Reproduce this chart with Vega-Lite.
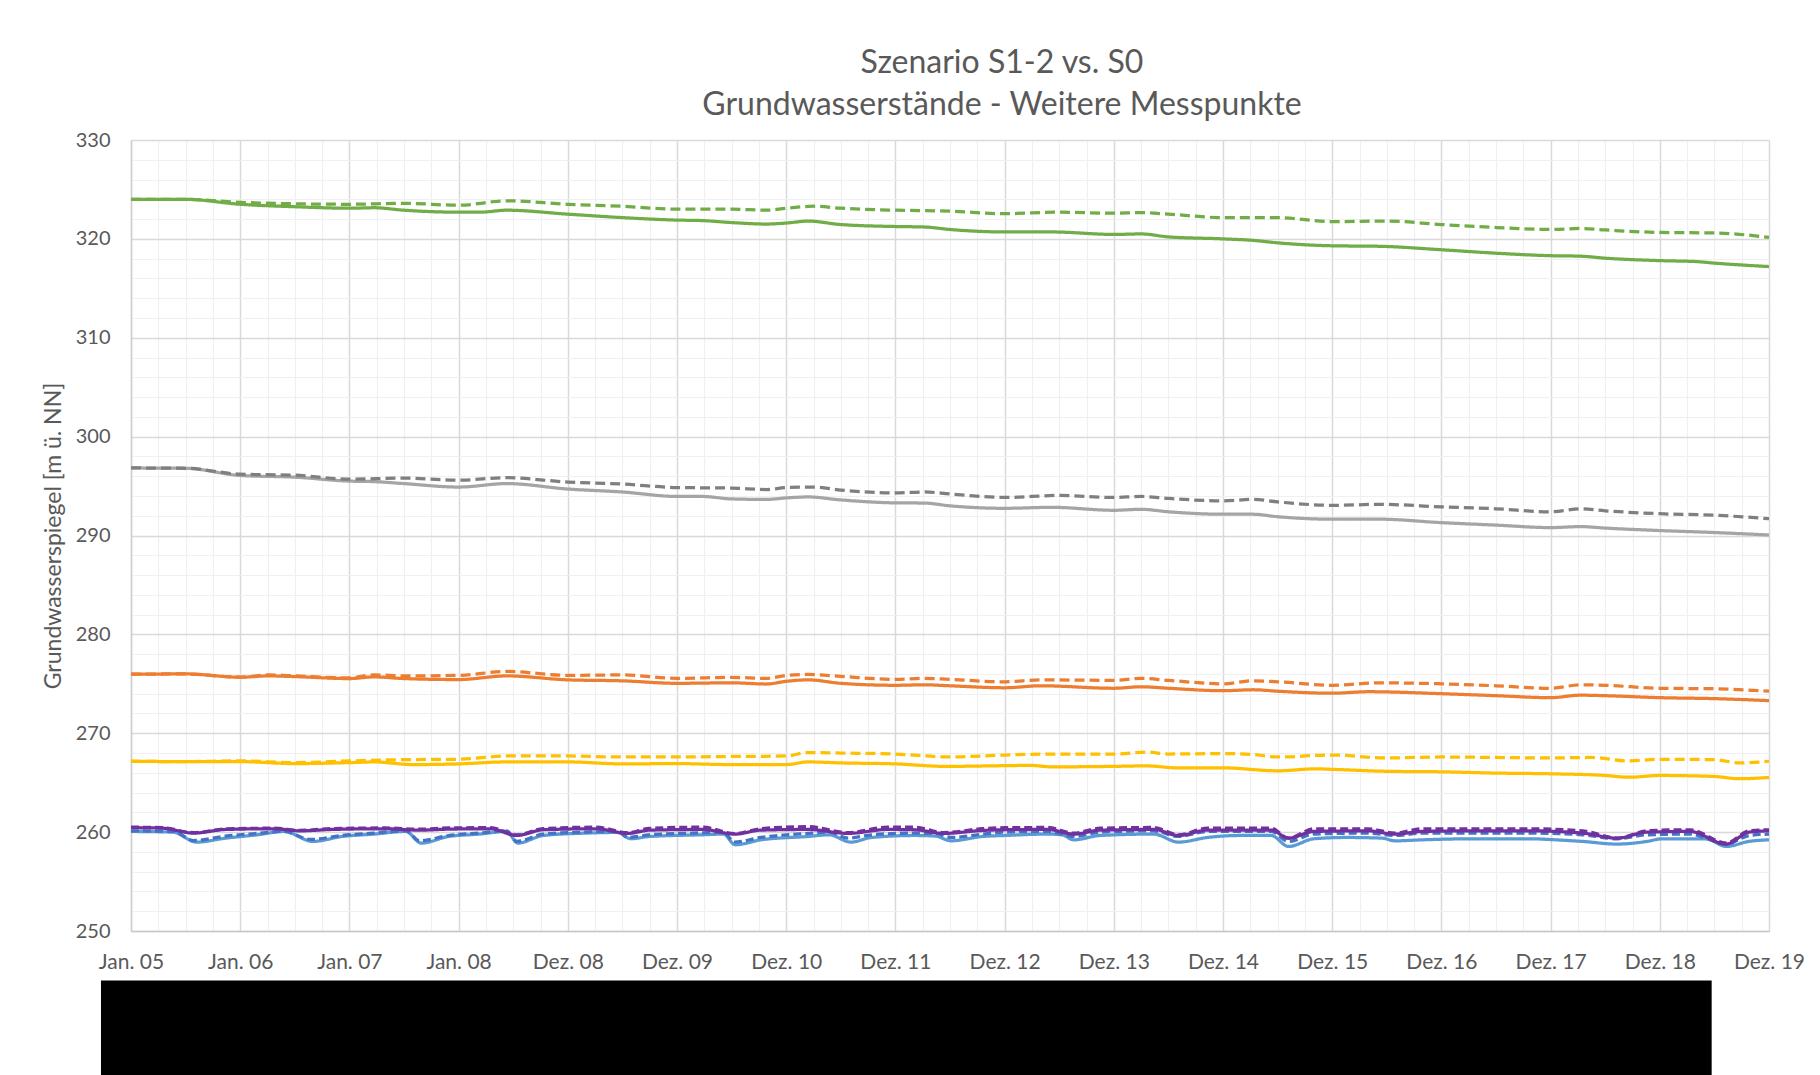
{
"$schema": "https://vega.github.io/schema/vega-lite/v6.json",
"width": 1638, "height": 791,
"autosize": {"type": "none"},
"padding": {"left": 131, "top": 140, "right": 51, "bottom": 144},
"background": "white",
"config": {
  "font": "Lato",
  "view": {"stroke": null},
  "axisX": {
    "grid": true,
    "gridColor": {"condition": {"test": "datum.value % 12 === 0", "value": "#d9d9d9"}, "value": "#f0f0f0"},
    "gridWidth": {"condition": {"test": "datum.value % 12 === 0", "value": 1.5}, "value": 1.2},
    "ticks": false,
    "domainColor": "#c8c8c8", "domainWidth": 1.5,
    "labelFont": "Lato", "labelFontSize": 21, "labelColor": "#595959", "labelPadding": 20,
    "labelFlush": false, "labelOverlap": false, "labelBound": false
  },
  "axisY": {
    "grid": true,
    "gridColor": {"condition": {"test": "datum.value % 10 === 0", "value": "#d9d9d9"}, "value": "#f0f0f0"},
    "gridWidth": {"condition": {"test": "datum.value % 10 === 0", "value": 1.5}, "value": 1.2},
    "ticks": false,
    "domainColor": "#d0d0d0", "domainWidth": 1.5,
    "labelFont": "Lato", "labelFontSize": 20, "labelColor": "#595959", "labelPadding": 21,
    "labelOverlap": false,
    "titleFont": "Lato", "titleFontSize": 23, "titleFontWeight": "normal", "titleColor": "#595959", "titlePadding": 10
  }
},
"title": {
  "text": ["Szenario S1-2 vs. S0", "Grundwasserstände - Weitere Messpunkte"],
  "font": "Lato", "fontSize": 32, "fontWeight": "normal", "color": "#595959",
  "anchor": "middle", "frame": "group", "dx": 52, "lineHeight": 42, "offset": 8
},
"layer": [
  {
    "data": {"name": "gw"},
    "mark": {"type": "line", "interpolate": "monotone"},
    "encoding": {
      "x": {"field": "t", "type": "quantitative", "title": null, "scale": {"domain": [0, 180], "nice": false, "zero": false},
        "axis": {"tickCount": 200, "values": [0,3,6,9,12,15,18,21,24,27,30,33,36,39,42,45,48,51,54,57,60,63,66,69,72,75,78,81,84,87,90,93,96,99,102,105,108,111,114,117,120,123,126,129,132,135,138,141,144,147,150,153,156,159,162,165,168,171,174,177,180],
          "labelExpr": "datum.value % 12 === 0 ? ['Jan. 05','Jan. 06','Jan. 07','Jan. 08','Dez. 08','Dez. 09','Dez. 10','Dez. 11','Dez. 12','Dez. 13','Dez. 14','Dez. 15','Dez. 16','Dez. 17','Dez. 18','Dez. 19'][datum.value / 12] : ''"}},
      "y": {"field": "v", "type": "quantitative", "title": "Grundwasserspiegel [m ü. NN]", "scale": {"domain": [250, 330], "nice": false, "zero": false},
        "axis": {"tickCount": 200, "format": "d", "values": [250,252,254,256,258,260,262,264,266,268,270,272,274,276,278,280,282,284,286,288,290,292,294,296,298,300,302,304,306,308,310,312,314,316,318,320,322,324,326,328,330],
          "labelExpr": "datum.value % 10 === 0 ? format(datum.value, 'd') : ''"}},
      "color": {"field": "s", "type": "nominal", "legend": null,
        "scale": {"domain": ["MP1 S0","MP1 S1-2","MP2 S0","MP2 S1-2","MP3 S0","MP3 S1-2","MP4 S0","MP4 S1-2","MP5 S0","MP5 S1-2","MP6 S0","MP6 S1-2"],
                  "range": ["#70ad47","#70ad47","#a5a5a5","#7f7f7f","#ed7d31","#ed7d31","#ffc000","#ffc000","#5b9bd5","#4472c4","#7030a0","#7030a0"]}},
      "strokeDash": {"field": "s", "type": "nominal", "legend": null,
        "scale": {"domain": ["MP1 S0","MP1 S1-2","MP2 S0","MP2 S1-2","MP3 S0","MP3 S1-2","MP4 S0","MP4 S1-2","MP5 S0","MP5 S1-2","MP6 S0","MP6 S1-2"],
                  "range": [[1,0],[10,5],[1,0],[10,5],[1,0],[10,5],[1,0],[10,5],[1,0],[8,4],[1,0],[8,4]]}},
      "strokeWidth": {"field": "s", "type": "nominal", "legend": null,
        "scale": {"domain": ["MP1 S0","MP1 S1-2","MP2 S0","MP2 S1-2","MP3 S0","MP3 S1-2","MP4 S0","MP4 S1-2","MP5 S0","MP5 S1-2","MP6 S0","MP6 S1-2"],
                  "range": [3.25,3.25,3.25,3.25,3.25,3.25,3.25,3.25,3.25,3.25,3.5,4]}}
    }
  },
  {
    "data": {"values": [{}]},
    "mark": {"type": "rect", "color": "black", "clip": false},
    "encoding": {
      "x": {"datum": -3.3, "type": "quantitative", "title": null},
      "x2": {"datum": 173.7},
      "y": {"datum": 245, "type": "quantitative", "title": "Grundwasserspiegel [m ü. NN]"},
      "y2": {"datum": 235.3}
    }
  }
],
"datasets": {
"gw": [
{"s":"MP1 S0","t":0,"v":324.0},{"s":"MP1 S0","t":6,"v":324.0},{"s":"MP1 S0","t":12,"v":323.5},{"s":"MP1 S0","t":18,"v":323.25},{"s":"MP1 S0","t":24,"v":323.1},{"s":"MP1 S0","t":26.7,"v":323.15},{"s":"MP1 S0","t":30,"v":322.9},{"s":"MP1 S0","t":36,"v":322.7},{"s":"MP1 S0","t":38.4,"v":322.7},{"s":"MP1 S0","t":41.3,"v":322.9},{"s":"MP1 S0","t":48,"v":322.5},{"s":"MP1 S0","t":54,"v":322.15},{"s":"MP1 S0","t":60,"v":321.9},{"s":"MP1 S0","t":62.8,"v":321.85},{"s":"MP1 S0","t":66,"v":321.65},{"s":"MP1 S0","t":69.8,"v":321.5},{"s":"MP1 S0","t":72,"v":321.6},{"s":"MP1 S0","t":74.4,"v":321.8},{"s":"MP1 S0","t":78,"v":321.45},{"s":"MP1 S0","t":84,"v":321.25},{"s":"MP1 S0","t":87.2,"v":321.2},{"s":"MP1 S0","t":90,"v":320.95},{"s":"MP1 S0","t":96,"v":320.7},{"s":"MP1 S0","t":101.2,"v":320.7},{"s":"MP1 S0","t":108,"v":320.45},{"s":"MP1 S0","t":111,"v":320.5},{"s":"MP1 S0","t":114,"v":320.2},{"s":"MP1 S0","t":120,"v":320.0},{"s":"MP1 S0","t":123.3,"v":319.85},{"s":"MP1 S0","t":126,"v":319.6},{"s":"MP1 S0","t":132,"v":319.3},{"s":"MP1 S0","t":137.2,"v":319.25},{"s":"MP1 S0","t":144,"v":318.9},{"s":"MP1 S0","t":150,"v":318.55},{"s":"MP1 S0","t":156,"v":318.3},{"s":"MP1 S0","t":159.3,"v":318.25},{"s":"MP1 S0","t":162,"v":318.05},{"s":"MP1 S0","t":168,"v":317.8},{"s":"MP1 S0","t":172.1,"v":317.7},{"s":"MP1 S0","t":174,"v":317.55},{"s":"MP1 S0","t":180,"v":317.2},
{"s":"MP1 S1-2","t":0,"v":324.0},{"s":"MP1 S1-2","t":6,"v":324.0},{"s":"MP1 S1-2","t":12,"v":323.7},{"s":"MP1 S1-2","t":18,"v":323.55},{"s":"MP1 S1-2","t":24,"v":323.5},{"s":"MP1 S1-2","t":30,"v":323.6},{"s":"MP1 S1-2","t":36,"v":323.4},{"s":"MP1 S1-2","t":41.3,"v":323.85},{"s":"MP1 S1-2","t":48,"v":323.5},{"s":"MP1 S1-2","t":54,"v":323.3},{"s":"MP1 S1-2","t":60,"v":323.0},{"s":"MP1 S1-2","t":66,"v":323.0},{"s":"MP1 S1-2","t":69.8,"v":322.9},{"s":"MP1 S1-2","t":72,"v":323.1},{"s":"MP1 S1-2","t":75,"v":323.3},{"s":"MP1 S1-2","t":78,"v":323.1},{"s":"MP1 S1-2","t":84,"v":322.9},{"s":"MP1 S1-2","t":90,"v":322.8},{"s":"MP1 S1-2","t":96,"v":322.55},{"s":"MP1 S1-2","t":102,"v":322.7},{"s":"MP1 S1-2","t":108,"v":322.6},{"s":"MP1 S1-2","t":111,"v":322.65},{"s":"MP1 S1-2","t":114,"v":322.5},{"s":"MP1 S1-2","t":120,"v":322.15},{"s":"MP1 S1-2","t":126,"v":322.15},{"s":"MP1 S1-2","t":132,"v":321.75},{"s":"MP1 S1-2","t":138,"v":321.8},{"s":"MP1 S1-2","t":144,"v":321.45},{"s":"MP1 S1-2","t":150,"v":321.15},{"s":"MP1 S1-2","t":156,"v":320.95},{"s":"MP1 S1-2","t":159.3,"v":321.05},{"s":"MP1 S1-2","t":162,"v":320.9},{"s":"MP1 S1-2","t":168,"v":320.65},{"s":"MP1 S1-2","t":174,"v":320.6},{"s":"MP1 S1-2","t":180,"v":320.15},
{"s":"MP2 S0","t":0,"v":296.83},{"s":"MP2 S0","t":6,"v":296.8},{"s":"MP2 S0","t":12,"v":296.07},{"s":"MP2 S0","t":18,"v":295.9},{"s":"MP2 S0","t":24,"v":295.5},{"s":"MP2 S0","t":26.7,"v":295.45},{"s":"MP2 S0","t":30,"v":295.25},{"s":"MP2 S0","t":36,"v":294.9},{"s":"MP2 S0","t":41.3,"v":295.25},{"s":"MP2 S0","t":48,"v":294.7},{"s":"MP2 S0","t":54,"v":294.4},{"s":"MP2 S0","t":60,"v":293.95},{"s":"MP2 S0","t":62.8,"v":293.95},{"s":"MP2 S0","t":66,"v":293.7},{"s":"MP2 S0","t":69.8,"v":293.65},{"s":"MP2 S0","t":72,"v":293.8},{"s":"MP2 S0","t":74.4,"v":293.9},{"s":"MP2 S0","t":78,"v":293.6},{"s":"MP2 S0","t":84,"v":293.3},{"s":"MP2 S0","t":87.2,"v":293.28},{"s":"MP2 S0","t":90,"v":293.0},{"s":"MP2 S0","t":96,"v":292.75},{"s":"MP2 S0","t":101.2,"v":292.85},{"s":"MP2 S0","t":108,"v":292.55},{"s":"MP2 S0","t":111,"v":292.65},{"s":"MP2 S0","t":114,"v":292.4},{"s":"MP2 S0","t":120,"v":292.15},{"s":"MP2 S0","t":123.3,"v":292.15},{"s":"MP2 S0","t":126,"v":291.9},{"s":"MP2 S0","t":132,"v":291.65},{"s":"MP2 S0","t":137.2,"v":291.65},{"s":"MP2 S0","t":144,"v":291.3},{"s":"MP2 S0","t":150,"v":291.05},{"s":"MP2 S0","t":156,"v":290.8},{"s":"MP2 S0","t":159.3,"v":290.9},{"s":"MP2 S0","t":162,"v":290.75},{"s":"MP2 S0","t":168,"v":290.5},{"s":"MP2 S0","t":174,"v":290.3},{"s":"MP2 S0","t":180,"v":290.05},
{"s":"MP2 S1-2","t":0,"v":296.83},{"s":"MP2 S1-2","t":6,"v":296.8},{"s":"MP2 S1-2","t":12,"v":296.2},{"s":"MP2 S1-2","t":18,"v":296.1},{"s":"MP2 S1-2","t":24,"v":295.7},{"s":"MP2 S1-2","t":30,"v":295.8},{"s":"MP2 S1-2","t":36,"v":295.6},{"s":"MP2 S1-2","t":41.3,"v":295.85},{"s":"MP2 S1-2","t":48,"v":295.4},{"s":"MP2 S1-2","t":54,"v":295.2},{"s":"MP2 S1-2","t":60,"v":294.85},{"s":"MP2 S1-2","t":66,"v":294.8},{"s":"MP2 S1-2","t":69.8,"v":294.65},{"s":"MP2 S1-2","t":72,"v":294.85},{"s":"MP2 S1-2","t":75,"v":294.9},{"s":"MP2 S1-2","t":78,"v":294.6},{"s":"MP2 S1-2","t":84,"v":294.3},{"s":"MP2 S1-2","t":87.2,"v":294.4},{"s":"MP2 S1-2","t":90,"v":294.2},{"s":"MP2 S1-2","t":96,"v":293.85},{"s":"MP2 S1-2","t":102,"v":294.05},{"s":"MP2 S1-2","t":108,"v":293.85},{"s":"MP2 S1-2","t":111,"v":293.95},{"s":"MP2 S1-2","t":114,"v":293.75},{"s":"MP2 S1-2","t":120,"v":293.5},{"s":"MP2 S1-2","t":123.3,"v":293.65},{"s":"MP2 S1-2","t":126,"v":293.4},{"s":"MP2 S1-2","t":132,"v":293.05},{"s":"MP2 S1-2","t":137.2,"v":293.15},{"s":"MP2 S1-2","t":144,"v":292.9},{"s":"MP2 S1-2","t":150,"v":292.7},{"s":"MP2 S1-2","t":156,"v":292.4},{"s":"MP2 S1-2","t":159.3,"v":292.7},{"s":"MP2 S1-2","t":162,"v":292.5},{"s":"MP2 S1-2","t":168,"v":292.2},{"s":"MP2 S1-2","t":174,"v":292.05},{"s":"MP2 S1-2","t":180,"v":291.7},
{"s":"MP3 S0","t":0,"v":275.97},{"s":"MP3 S0","t":6,"v":276.0},{"s":"MP3 S0","t":12,"v":275.67},{"s":"MP3 S0","t":15.1,"v":275.8},{"s":"MP3 S0","t":18,"v":275.73},{"s":"MP3 S0","t":24,"v":275.53},{"s":"MP3 S0","t":26.7,"v":275.7},{"s":"MP3 S0","t":30,"v":275.53},{"s":"MP3 S0","t":36,"v":275.43},{"s":"MP3 S0","t":41.3,"v":275.8},{"s":"MP3 S0","t":48,"v":275.4},{"s":"MP3 S0","t":54,"v":275.3},{"s":"MP3 S0","t":60,"v":275.05},{"s":"MP3 S0","t":66,"v":275.1},{"s":"MP3 S0","t":69.8,"v":274.98},{"s":"MP3 S0","t":72,"v":275.25},{"s":"MP3 S0","t":74.4,"v":275.4},{"s":"MP3 S0","t":78,"v":275.05},{"s":"MP3 S0","t":84,"v":274.85},{"s":"MP3 S0","t":87.2,"v":274.9},{"s":"MP3 S0","t":90,"v":274.8},{"s":"MP3 S0","t":96,"v":274.6},{"s":"MP3 S0","t":100,"v":274.8},{"s":"MP3 S0","t":108,"v":274.55},{"s":"MP3 S0","t":111,"v":274.7},{"s":"MP3 S0","t":114,"v":274.55},{"s":"MP3 S0","t":120,"v":274.3},{"s":"MP3 S0","t":123.3,"v":274.4},{"s":"MP3 S0","t":126,"v":274.25},{"s":"MP3 S0","t":132,"v":274.05},{"s":"MP3 S0","t":136,"v":274.2},{"s":"MP3 S0","t":144,"v":274.0},{"s":"MP3 S0","t":150,"v":273.8},{"s":"MP3 S0","t":156,"v":273.6},{"s":"MP3 S0","t":159.3,"v":273.85},{"s":"MP3 S0","t":162,"v":273.8},{"s":"MP3 S0","t":168,"v":273.6},{"s":"MP3 S0","t":174,"v":273.5},{"s":"MP3 S0","t":180,"v":273.3},
{"s":"MP3 S1-2","t":0,"v":275.97},{"s":"MP3 S1-2","t":6,"v":276.0},{"s":"MP3 S1-2","t":12,"v":275.67},{"s":"MP3 S1-2","t":15.1,"v":275.9},{"s":"MP3 S1-2","t":18,"v":275.8},{"s":"MP3 S1-2","t":24,"v":275.6},{"s":"MP3 S1-2","t":26.7,"v":275.9},{"s":"MP3 S1-2","t":30,"v":275.8},{"s":"MP3 S1-2","t":36,"v":275.85},{"s":"MP3 S1-2","t":41.3,"v":276.25},{"s":"MP3 S1-2","t":48,"v":275.85},{"s":"MP3 S1-2","t":54,"v":275.9},{"s":"MP3 S1-2","t":60,"v":275.55},{"s":"MP3 S1-2","t":66,"v":275.65},{"s":"MP3 S1-2","t":69.8,"v":275.55},{"s":"MP3 S1-2","t":72,"v":275.85},{"s":"MP3 S1-2","t":74.4,"v":275.95},{"s":"MP3 S1-2","t":78,"v":275.75},{"s":"MP3 S1-2","t":84,"v":275.45},{"s":"MP3 S1-2","t":87.2,"v":275.55},{"s":"MP3 S1-2","t":90,"v":275.45},{"s":"MP3 S1-2","t":96,"v":275.2},{"s":"MP3 S1-2","t":100,"v":275.4},{"s":"MP3 S1-2","t":108,"v":275.35},{"s":"MP3 S1-2","t":111,"v":275.55},{"s":"MP3 S1-2","t":114,"v":275.35},{"s":"MP3 S1-2","t":120,"v":275.0},{"s":"MP3 S1-2","t":123.3,"v":275.3},{"s":"MP3 S1-2","t":126,"v":275.2},{"s":"MP3 S1-2","t":132,"v":274.85},{"s":"MP3 S1-2","t":137.2,"v":275.1},{"s":"MP3 S1-2","t":144,"v":275.0},{"s":"MP3 S1-2","t":150,"v":274.8},{"s":"MP3 S1-2","t":156,"v":274.55},{"s":"MP3 S1-2","t":159.3,"v":274.9},{"s":"MP3 S1-2","t":162,"v":274.85},{"s":"MP3 S1-2","t":168,"v":274.55},{"s":"MP3 S1-2","t":174,"v":274.5},{"s":"MP3 S1-2","t":180,"v":274.25},
{"s":"MP4 S0","t":0,"v":267.17},{"s":"MP4 S0","t":6,"v":267.13},{"s":"MP4 S0","t":12,"v":267.13},{"s":"MP4 S0","t":18,"v":266.93},{"s":"MP4 S0","t":24,"v":267.03},{"s":"MP4 S0","t":26.7,"v":267.1},{"s":"MP4 S0","t":31,"v":266.83},{"s":"MP4 S0","t":36,"v":266.9},{"s":"MP4 S0","t":41.3,"v":267.1},{"s":"MP4 S0","t":48,"v":267.1},{"s":"MP4 S0","t":54,"v":266.9},{"s":"MP4 S0","t":60,"v":266.93},{"s":"MP4 S0","t":66,"v":266.83},{"s":"MP4 S0","t":72,"v":266.83},{"s":"MP4 S0","t":74.4,"v":267.1},{"s":"MP4 S0","t":78,"v":267.0},{"s":"MP4 S0","t":84,"v":266.9},{"s":"MP4 S0","t":89.5,"v":266.65},{"s":"MP4 S0","t":96,"v":266.72},{"s":"MP4 S0","t":98.8,"v":266.75},{"s":"MP4 S0","t":101.2,"v":266.6},{"s":"MP4 S0","t":108,"v":266.65},{"s":"MP4 S0","t":111.6,"v":266.7},{"s":"MP4 S0","t":115,"v":266.5},{"s":"MP4 S0","t":120,"v":266.5},{"s":"MP4 S0","t":126,"v":266.2},{"s":"MP4 S0","t":130.2,"v":266.4},{"s":"MP4 S0","t":132,"v":266.35},{"s":"MP4 S0","t":138,"v":266.15},{"s":"MP4 S0","t":144,"v":266.1},{"s":"MP4 S0","t":150,"v":265.97},{"s":"MP4 S0","t":156,"v":265.9},{"s":"MP4 S0","t":162,"v":265.73},{"s":"MP4 S0","t":164.6,"v":265.55},{"s":"MP4 S0","t":168,"v":265.73},{"s":"MP4 S0","t":174,"v":265.63},{"s":"MP4 S0","t":176.7,"v":265.4},{"s":"MP4 S0","t":180,"v":265.53},
{"s":"MP4 S1-2","t":0,"v":267.17},{"s":"MP4 S1-2","t":6,"v":267.13},{"s":"MP4 S1-2","t":12,"v":267.2},{"s":"MP4 S1-2","t":18,"v":267.03},{"s":"MP4 S1-2","t":24,"v":267.2},{"s":"MP4 S1-2","t":30,"v":267.33},{"s":"MP4 S1-2","t":36,"v":267.37},{"s":"MP4 S1-2","t":41.3,"v":267.7},{"s":"MP4 S1-2","t":48,"v":267.7},{"s":"MP4 S1-2","t":54,"v":267.6},{"s":"MP4 S1-2","t":60,"v":267.6},{"s":"MP4 S1-2","t":66,"v":267.65},{"s":"MP4 S1-2","t":72,"v":267.7},{"s":"MP4 S1-2","t":74.4,"v":268.05},{"s":"MP4 S1-2","t":78,"v":268.0},{"s":"MP4 S1-2","t":84,"v":267.9},{"s":"MP4 S1-2","t":90,"v":267.6},{"s":"MP4 S1-2","t":96,"v":267.8},{"s":"MP4 S1-2","t":102,"v":267.9},{"s":"MP4 S1-2","t":108,"v":267.9},{"s":"MP4 S1-2","t":111.6,"v":268.1},{"s":"MP4 S1-2","t":114,"v":267.9},{"s":"MP4 S1-2","t":120,"v":267.95},{"s":"MP4 S1-2","t":123.3,"v":267.85},{"s":"MP4 S1-2","t":126,"v":267.6},{"s":"MP4 S1-2","t":132,"v":267.8},{"s":"MP4 S1-2","t":138,"v":267.5},{"s":"MP4 S1-2","t":144,"v":267.6},{"s":"MP4 S1-2","t":150,"v":267.55},{"s":"MP4 S1-2","t":156,"v":267.5},{"s":"MP4 S1-2","t":160.5,"v":267.55},{"s":"MP4 S1-2","t":164.6,"v":267.2},{"s":"MP4 S1-2","t":168,"v":267.37},{"s":"MP4 S1-2","t":174,"v":267.33},{"s":"MP4 S1-2","t":176.7,"v":267.0},{"s":"MP4 S1-2","t":180,"v":267.17},
{"s":"MP5 S0","t":0,"v":260.07},{"s":"MP5 S0","t":4.6,"v":260.0},{"s":"MP5 S0","t":7.2,"v":258.99},{"s":"MP5 S0","t":10.4,"v":259.39},{"s":"MP5 S0","t":13.9,"v":259.73},{"s":"MP5 S0","t":16.8,"v":260.07},{"s":"MP5 S0","t":20,"v":259.06},{"s":"MP5 S0","t":23.2,"v":259.56},{"s":"MP5 S0","t":26.7,"v":259.8},{"s":"MP5 S0","t":30.2,"v":260.07},{"s":"MP5 S0","t":31.9,"v":258.89},{"s":"MP5 S0","t":34.9,"v":259.56},{"s":"MP5 S0","t":38.3,"v":259.8},{"s":"MP5 S0","t":41.3,"v":260.07},{"s":"MP5 S0","t":42.5,"v":258.89},{"s":"MP5 S0","t":45.3,"v":259.66},{"s":"MP5 S0","t":50,"v":259.9},{"s":"MP5 S0","t":53.5,"v":259.97},{"s":"MP5 S0","t":54.9,"v":259.33},{"s":"MP5 S0","t":57,"v":259.56},{"s":"MP5 S0","t":62.8,"v":259.73},{"s":"MP5 S0","t":65.1,"v":259.8},{"s":"MP5 S0","t":66.4,"v":258.72},{"s":"MP5 S0","t":69.2,"v":259.22},{"s":"MP5 S0","t":74.4,"v":259.56},{"s":"MP5 S0","t":76.7,"v":259.73},{"s":"MP5 S0","t":79.1,"v":258.99},{"s":"MP5 S0","t":81.4,"v":259.46},{"s":"MP5 S0","t":86.1,"v":259.66},{"s":"MP5 S0","t":88.4,"v":259.6},{"s":"MP5 S0","t":90.1,"v":259.12},{"s":"MP5 S0","t":93.6,"v":259.56},{"s":"MP5 S0","t":96,"v":259.66},{"s":"MP5 S0","t":100.7,"v":259.8},{"s":"MP5 S0","t":102.3,"v":259.73},{"s":"MP5 S0","t":103.6,"v":259.22},{"s":"MP5 S0","t":106.5,"v":259.66},{"s":"MP5 S0","t":112.4,"v":259.8},{"s":"MP5 S0","t":115.1,"v":258.99},{"s":"MP5 S0","t":118.3,"v":259.46},{"s":"MP5 S0","t":121.8,"v":259.66},{"s":"MP5 S0","t":125.3,"v":259.66},{"s":"MP5 S0","t":127.2,"v":258.55},{"s":"MP5 S0","t":130,"v":259.33},{"s":"MP5 S0","t":133.6,"v":259.46},{"s":"MP5 S0","t":137.5,"v":259.39},{"s":"MP5 S0","t":138.9,"v":259.12},{"s":"MP5 S0","t":141.9,"v":259.22},{"s":"MP5 S0","t":147.7,"v":259.33},{"s":"MP5 S0","t":153.6,"v":259.33},{"s":"MP5 S0","t":156.6,"v":259.22},{"s":"MP5 S0","t":159.5,"v":259.06},{"s":"MP5 S0","t":163.3,"v":258.79},{"s":"MP5 S0","t":166.6,"v":259.06},{"s":"MP5 S0","t":168.3,"v":259.33},{"s":"MP5 S0","t":173.1,"v":259.33},{"s":"MP5 S0","t":175.3,"v":258.55},{"s":"MP5 S0","t":177.8,"v":259.06},{"s":"MP5 S0","t":180,"v":259.22},
{"s":"MP5 S1-2","t":0,"v":260.13},{"s":"MP5 S1-2","t":4.6,"v":260.07},{"s":"MP5 S1-2","t":6.9,"v":259.15},{"s":"MP5 S1-2","t":10.4,"v":259.6},{"s":"MP5 S1-2","t":13.9,"v":259.87},{"s":"MP5 S1-2","t":16.8,"v":260.07},{"s":"MP5 S1-2","t":19.7,"v":259.26},{"s":"MP5 S1-2","t":23.2,"v":259.66},{"s":"MP5 S1-2","t":26.7,"v":259.9},{"s":"MP5 S1-2","t":30.2,"v":260.13},{"s":"MP5 S1-2","t":31.7,"v":259.12},{"s":"MP5 S1-2","t":34.9,"v":259.66},{"s":"MP5 S1-2","t":38.3,"v":259.9},{"s":"MP5 S1-2","t":41.3,"v":260.13},{"s":"MP5 S1-2","t":42.4,"v":259.06},{"s":"MP5 S1-2","t":45.3,"v":259.8},{"s":"MP5 S1-2","t":50,"v":260.0},{"s":"MP5 S1-2","t":53.5,"v":260.07},{"s":"MP5 S1-2","t":54.6,"v":259.46},{"s":"MP5 S1-2","t":57,"v":259.73},{"s":"MP5 S1-2","t":62.8,"v":259.93},{"s":"MP5 S1-2","t":65.1,"v":260.0},{"s":"MP5 S1-2","t":66.3,"v":259.0},{"s":"MP5 S1-2","t":69.2,"v":259.46},{"s":"MP5 S1-2","t":74.4,"v":259.87},{"s":"MP5 S1-2","t":76.7,"v":260.0},{"s":"MP5 S1-2","t":78.8,"v":259.39},{"s":"MP5 S1-2","t":81.4,"v":259.73},{"s":"MP5 S1-2","t":86.1,"v":259.9},{"s":"MP5 S1-2","t":88.4,"v":259.87},{"s":"MP5 S1-2","t":90.1,"v":259.46},{"s":"MP5 S1-2","t":93.6,"v":259.8},{"s":"MP5 S1-2","t":96,"v":260.0},{"s":"MP5 S1-2","t":100.7,"v":260.07},{"s":"MP5 S1-2","t":103.6,"v":259.56},{"s":"MP5 S1-2","t":106.5,"v":260.0},{"s":"MP5 S1-2","t":112.4,"v":260.13},{"s":"MP5 S1-2","t":115.1,"v":259.56},{"s":"MP5 S1-2","t":118.3,"v":260.07},{"s":"MP5 S1-2","t":125.3,"v":260.07},{"s":"MP5 S1-2","t":127.2,"v":259.06},{"s":"MP5 S1-2","t":130,"v":259.8},{"s":"MP5 S1-2","t":135.9,"v":259.9},{"s":"MP5 S1-2","t":138.9,"v":259.66},{"s":"MP5 S1-2","t":141.9,"v":259.9},{"s":"MP5 S1-2","t":147.7,"v":259.9},{"s":"MP5 S1-2","t":153.6,"v":259.9},{"s":"MP5 S1-2","t":159.5,"v":259.73},{"s":"MP5 S1-2","t":163.3,"v":259.33},{"s":"MP5 S1-2","t":166.6,"v":259.73},{"s":"MP5 S1-2","t":171.3,"v":259.8},{"s":"MP5 S1-2","t":175.3,"v":258.79},{"s":"MP5 S1-2","t":177.8,"v":259.66},{"s":"MP5 S1-2","t":180,"v":259.8},
{"s":"MP6 S0","t":0,"v":260.45},{"s":"MP6 S0","t":3.4,"v":260.4},{"s":"MP6 S0","t":6.9,"v":259.9},{"s":"MP6 S0","t":10.4,"v":260.27},{"s":"MP6 S0","t":15.7,"v":260.34},{"s":"MP6 S0","t":18.6,"v":260.13},{"s":"MP6 S0","t":22.1,"v":260.27},{"s":"MP6 S0","t":27.9,"v":260.34},{"s":"MP6 S0","t":31.7,"v":260.2},{"s":"MP6 S0","t":34.9,"v":260.3},{"s":"MP6 S0","t":39.5,"v":260.34},{"s":"MP6 S0","t":42.4,"v":259.66},{"s":"MP6 S0","t":45.3,"v":260.24},{"s":"MP6 S0","t":51.1,"v":260.34},{"s":"MP6 S0","t":54.6,"v":259.87},{"s":"MP6 S0","t":57,"v":260.2},{"s":"MP6 S0","t":62.8,"v":260.27},{"s":"MP6 S0","t":66.4,"v":259.8},{"s":"MP6 S0","t":69.2,"v":260.2},{"s":"MP6 S0","t":74.4,"v":260.27},{"s":"MP6 S0","t":78.8,"v":259.87},{"s":"MP6 S0","t":83.1,"v":260.27},{"s":"MP6 S0","t":86.1,"v":260.24},{"s":"MP6 S0","t":89.3,"v":259.87},{"s":"MP6 S0","t":93.6,"v":260.17},{"s":"MP6 S0","t":96,"v":260.24},{"s":"MP6 S0","t":100.7,"v":260.27},{"s":"MP6 S0","t":103.6,"v":259.8},{"s":"MP6 S0","t":106.5,"v":260.2},{"s":"MP6 S0","t":112.4,"v":260.27},{"s":"MP6 S0","t":115.1,"v":259.66},{"s":"MP6 S0","t":118.3,"v":260.2},{"s":"MP6 S0","t":125.3,"v":260.2},{"s":"MP6 S0","t":127.2,"v":259.39},{"s":"MP6 S0","t":130,"v":260.07},{"s":"MP6 S0","t":135.9,"v":260.13},{"s":"MP6 S0","t":138.9,"v":259.8},{"s":"MP6 S0","t":141.9,"v":260.07},{"s":"MP6 S0","t":147.7,"v":260.13},{"s":"MP6 S0","t":153.6,"v":260.13},{"s":"MP6 S0","t":159.5,"v":259.9},{"s":"MP6 S0","t":163.3,"v":259.39},{"s":"MP6 S0","t":166.6,"v":260.0},{"s":"MP6 S0","t":171.3,"v":260.07},{"s":"MP6 S0","t":175.3,"v":258.79},{"s":"MP6 S0","t":177.8,"v":260.0},{"s":"MP6 S0","t":180,"v":260.13},
{"s":"MP6 S1-2","t":0,"v":260.5},{"s":"MP6 S1-2","t":3.4,"v":260.45},{"s":"MP6 S1-2","t":6.9,"v":259.95},{"s":"MP6 S1-2","t":10.4,"v":260.32},{"s":"MP6 S1-2","t":15.7,"v":260.4},{"s":"MP6 S1-2","t":18.6,"v":260.18},{"s":"MP6 S1-2","t":22.1,"v":260.35},{"s":"MP6 S1-2","t":27.9,"v":260.42},{"s":"MP6 S1-2","t":31.7,"v":260.3},{"s":"MP6 S1-2","t":34.9,"v":260.42},{"s":"MP6 S1-2","t":39.5,"v":260.45},{"s":"MP6 S1-2","t":42.4,"v":259.72},{"s":"MP6 S1-2","t":45.3,"v":260.35},{"s":"MP6 S1-2","t":51.1,"v":260.5},{"s":"MP6 S1-2","t":54.6,"v":259.95},{"s":"MP6 S1-2","t":57,"v":260.38},{"s":"MP6 S1-2","t":62.8,"v":260.5},{"s":"MP6 S1-2","t":66.4,"v":259.85},{"s":"MP6 S1-2","t":69.2,"v":260.35},{"s":"MP6 S1-2","t":74.4,"v":260.55},{"s":"MP6 S1-2","t":78.8,"v":259.95},{"s":"MP6 S1-2","t":83.1,"v":260.5},{"s":"MP6 S1-2","t":86.1,"v":260.5},{"s":"MP6 S1-2","t":89.3,"v":259.95},{"s":"MP6 S1-2","t":93.6,"v":260.35},{"s":"MP6 S1-2","t":96,"v":260.45},{"s":"MP6 S1-2","t":100.7,"v":260.47},{"s":"MP6 S1-2","t":103.6,"v":259.9},{"s":"MP6 S1-2","t":106.5,"v":260.4},{"s":"MP6 S1-2","t":112.4,"v":260.47},{"s":"MP6 S1-2","t":115.1,"v":259.73},{"s":"MP6 S1-2","t":118.3,"v":260.4},{"s":"MP6 S1-2","t":125.3,"v":260.4},{"s":"MP6 S1-2","t":127.2,"v":259.4},{"s":"MP6 S1-2","t":130,"v":260.34},{"s":"MP6 S1-2","t":135.9,"v":260.34},{"s":"MP6 S1-2","t":138.9,"v":259.9},{"s":"MP6 S1-2","t":141.9,"v":260.34},{"s":"MP6 S1-2","t":147.7,"v":260.34},{"s":"MP6 S1-2","t":153.6,"v":260.34},{"s":"MP6 S1-2","t":159.5,"v":260.13},{"s":"MP6 S1-2","t":163.3,"v":259.4},{"s":"MP6 S1-2","t":166.6,"v":260.13},{"s":"MP6 S1-2","t":171.3,"v":260.24},{"s":"MP6 S1-2","t":175.3,"v":258.9},{"s":"MP6 S1-2","t":177.8,"v":260.13},{"s":"MP6 S1-2","t":180,"v":260.24}
]
}
}
